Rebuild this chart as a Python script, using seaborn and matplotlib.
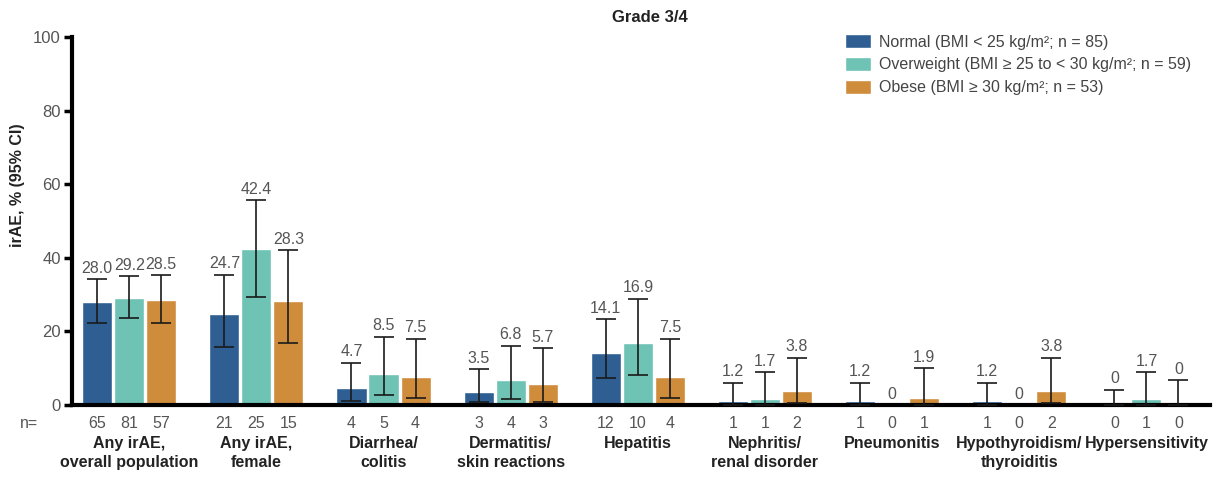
import numpy as np
import pandas as pd
import matplotlib
matplotlib.use("Agg")
import matplotlib.pyplot as plt
import seaborn as sns
from matplotlib.transforms import blended_transform_factory
from matplotlib.container import BarContainer

categories = ["Any irAE,\noverall population", "Any irAE,\nfemale", "Diarrhea/\ncolitis",
              "Dermatitis/\nskin reactions", "Hepatitis", "Nephritis/\nrenal disorder",
              "Pneumonitis", "Hypothyroidism/\nthyroiditis", "Hypersensitivity"]
groups = ["Normal (BMI < 25 kg/m²; n = 85)",
          "Overweight (BMI ≥ 25 to < 30 kg/m²; n = 59)",
          "Obese (BMI ≥ 30 kg/m²; n = 53)"]
colors = ["#2F5F92", "#6EC3B5", "#CF8D3C"]

normal_pct = [28.0, 24.7, 4.7, 3.5, 14.1, 1.2, 1.2, 1.2, 0]
overweight_pct = [29.2, 42.4, 8.5, 6.8, 16.9, 1.7, 0, 0, 1.7]
obese_pct = [28.5, 28.3, 7.5, 5.7, 7.5, 3.8, 1.9, 3.8, 0]

normal_lo = [22.2, 15.8, 1.2, 0.7, 7.4, 0.0, 0.0, 0.0, 0.0]
normal_hi = [34.2, 35.4, 11.5, 9.7, 23.3, 6.1, 6.1, 6.1, 4.2]
overweight_lo = [23.7, 29.4, 2.6, 1.6, 8.2, 0.0, np.nan, np.nan, 0.0]
overweight_hi = [35.0, 55.7, 18.6, 16.1, 28.9, 8.9, np.nan, np.nan, 8.9]
obese_lo = [22.2, 16.8, 2.0, 0.9, 2.0, 0.5, 0.0, 0.5, 0.0]
obese_hi = [35.2, 42.1, 18.0, 15.4, 18.0, 12.9, 10.0, 12.9, 6.7]

normal_n = [65, 21, 4, 3, 12, 1, 1, 1, 0]
overweight_n = [81, 25, 5, 4, 10, 1, 0, 0, 1]
obese_n = [57, 15, 4, 3, 4, 2, 1, 2, 0]

yticks = [0, 20, 40, 60, 80, 100]

pcts = [normal_pct, overweight_pct, obese_pct]
los = [normal_lo, overweight_lo, obese_lo]
his = [normal_hi, overweight_hi, obese_hi]
ns = [normal_n, overweight_n, obese_n]

rows = []
for g, vals in zip(groups, pcts):
    for c, v in zip(categories, vals):
        rows.append({"category": c, "group": g, "pct": v})
df = pd.DataFrame(rows)

sns.set_style("white")
plt.rcParams["font.family"] = ["Liberation Sans", "DejaVu Sans"]

FS = 11.5
fig = plt.figure(figsize=(12.18, 4.84), dpi=100)
ax = fig.add_axes([72 / 1218, 1 - 405 / 484, (1210 - 72) / 1218, (405 - 37) / 484])

sns.barplot(data=df, x="category", y="pct", hue="group", order=categories,
            hue_order=groups, palette=colors, saturation=1, width=0.756, gap=0.06,
            errorbar=None, ax=ax, legend=True)

ax.set_ylim(0, 100)
ax.set_xlim(-0.45, 8.5)
ax.set_yticks(yticks)
ax.set_yticklabels([str(t) for t in yticks], color="#555555", fontsize=12)
ax.tick_params(axis="y", direction="out", length=6, width=2.5, color="black", pad=2, left=True)
for s in ["top", "right"]:
    ax.spines[s].set_visible(False)
for s in ["left", "bottom"]:
    ax.spines[s].set_linewidth(3)
    ax.spines[s].set_color("black")

ax.set_xticks(range(len(categories)))
ax.set_xticklabels(categories, fontsize=FS, fontweight="bold", color="#222222",
                   linespacing=1.4)
ax.tick_params(axis="x", length=0, pad=22)
ax.set_xlabel("")
ax.set_ylabel("")
fig.text(18 / 1218, 1 - 185 / 484, "irAE, % (95% CI)", rotation=90, ha="center", va="center",
         fontsize=FS, fontweight="bold", color="#222222")

trans = blended_transform_factory(ax.transData, ax.transAxes)
bar_conts = [c for c in ax.containers if isinstance(c, BarContainer)]
for gi, cont in enumerate(bar_conts):
    for ci, patch in enumerate(cont.patches):
        xc = patch.get_x() + patch.get_width() / 2
        v = pcts[gi][ci]
        lo = los[gi][ci]
        hi = his[gi][ci]
        if not np.isnan(hi):
            ax.errorbar([xc], [v], yerr=[[v - lo], [hi - v]], fmt="none", ecolor="#1a1a1a",
                        elinewidth=1.2, capsize=7, capthick=1.2, clip_on=False, zorder=3)
            top = hi
        else:
            top = v
        lab = "0" if v == 0 else f"{v:.1f}"
        ax.annotate(lab, (xc, top), xytext=(0, 2.5), textcoords="offset points",
                    ha="center", va="bottom", fontsize=FS, color="#555555")
        ax.text(xc, -18 / 368, str(ns[gi][ci]), transform=trans, ha="center", va="center",
                fontsize=FS, color="#555555")

fig.text(20 / 1218, 1 - 423 / 484, "n=", ha="left", va="center", fontsize=FS, color="#555555")
fig.text(650 / 1218, 1 - 17 / 484, "Grade 3/4", ha="center", va="center", fontsize=12,
         fontweight="bold", color="#222222")

leg = ax.legend(loc="upper left", bbox_to_anchor=(845 / 1218, 1 - 34 / 484),
                bbox_transform=fig.transFigure, frameon=False, fontsize=FS,
                handlelength=1.6, handleheight=1.0, handletextpad=0.5, labelspacing=0.45,
                borderaxespad=0, borderpad=0)
for t in leg.get_texts():
    t.set_color("#444444")

fig.savefig("out.png", dpi=100)
